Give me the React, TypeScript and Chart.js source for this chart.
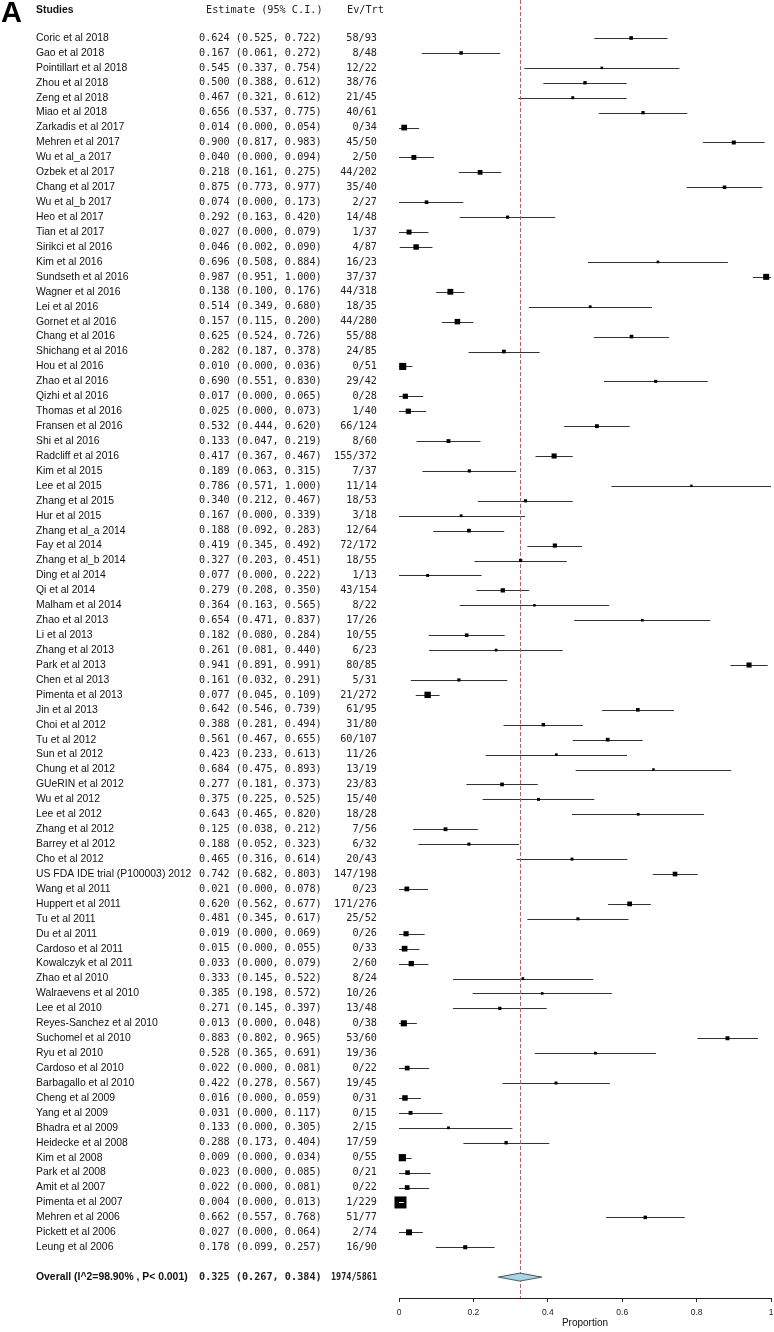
import React, { useEffect, useRef } from "react";
import { Chart, registerables } from "chart.js";
Chart.register(...registerables);

const studies = [
  "Coric et al 2018", "Gao et al 2018", "Pointillart et al 2018", "Zhou et al 2018", "Zeng et al 2018",
  "Miao et al 2018", "Zarkadis et al 2017", "Mehren et al 2017", "Wu et al_a 2017", "Ozbek et al 2017",
  "Chang et al 2017", "Wu et al_b 2017", "Heo et al 2017", "Tian et al 2017", "Sirikci et al 2016",
  "Kim et al 2016", "Sundseth et al 2016", "Wagner et al 2016", "Lei et al 2016", "Gornet et al 2016",
  "Chang et al 2016", "Shichang et al 2016", "Hou et al 2016", "Zhao et al 2016", "Qizhi et al 2016",
  "Thomas et al 2016", "Fransen et al 2016", "Shi et al 2016", "Radcliff et al 2016", "Kim et al 2015",
  "Lee et al 2015", "Zhang et al 2015", "Hur et al 2015", "Zhang et al_a 2014", "Fay et al 2014",
  "Zhang et al_b 2014", "Ding et al 2014", "Qi et al 2014", "Malham et al 2014", "Zhao et al 2013",
  "Li et al 2013", "Zhang et al 2013", "Park et al 2013", "Chen et al 2013", "Pimenta et al 2013",
  "Jin et al 2013", "Choi et al 2012", "Tu et al 2012", "Sun et al 2012", "Chung et al 2012",
  "GUeRIN et al 2012", "Wu et al 2012", "Lee et al 2012", "Zhang et al 2012", "Barrey et al 2012",
  "Cho et al 2012", "US FDA IDE trial (P100003) 2012", "Wang et al 2011", "Huppert et al 2011", "Tu et al 2011",
  "Du et al 2011", "Cardoso et al 2011", "Kowalczyk et al 2011", "Zhao et al 2010", "Walraevens et al 2010",
  "Lee et al 2010", "Reyes-Sanchez et al 2010", "Suchomel et al 2010", "Ryu et al 2010", "Cardoso et al 2010",
  "Barbagallo et al 2010", "Cheng et al 2009", "Yang et al 2009", "Bhadra et al 2009", "Heidecke et al 2008",
  "Kim et al 2008", "Park et al 2008", "Amit et al 2007", "Pimenta et al 2007", "Mehren et al 2006",
  "Pickett et al 2006", "Leung et al 2006",
];

const estimates = [
  0.624, 0.167, 0.545, 0.500, 0.467, 0.656, 0.014, 0.900, 0.040, 0.218,
  0.875, 0.074, 0.292, 0.027, 0.046, 0.696, 0.987, 0.138, 0.514, 0.157,
  0.625, 0.282, 0.010, 0.690, 0.017, 0.025, 0.532, 0.133, 0.417, 0.189,
  0.786, 0.340, 0.167, 0.188, 0.419, 0.327, 0.077, 0.279, 0.364, 0.654,
  0.182, 0.261, 0.941, 0.161, 0.077, 0.642, 0.388, 0.561, 0.423, 0.684,
  0.277, 0.375, 0.643, 0.125, 0.188, 0.465, 0.742, 0.021, 0.620, 0.481,
  0.019, 0.015, 0.033, 0.333, 0.385, 0.271, 0.013, 0.883, 0.528, 0.022,
  0.422, 0.016, 0.031, 0.133, 0.288, 0.009, 0.023, 0.022, 0.004, 0.662,
  0.027, 0.178,
];

const lowers = [
  0.525, 0.061, 0.337, 0.388, 0.321, 0.537, 0.000, 0.817, 0.000, 0.161,
  0.773, 0.000, 0.163, 0.000, 0.002, 0.508, 0.951, 0.100, 0.349, 0.115,
  0.524, 0.187, 0.000, 0.551, 0.000, 0.000, 0.444, 0.047, 0.367, 0.063,
  0.571, 0.212, 0.000, 0.092, 0.345, 0.203, 0.000, 0.208, 0.163, 0.471,
  0.080, 0.081, 0.891, 0.032, 0.045, 0.546, 0.281, 0.467, 0.233, 0.475,
  0.181, 0.225, 0.465, 0.038, 0.052, 0.316, 0.682, 0.000, 0.562, 0.345,
  0.000, 0.000, 0.000, 0.145, 0.198, 0.145, 0.000, 0.802, 0.365, 0.000,
  0.278, 0.000, 0.000, 0.000, 0.173, 0.000, 0.000, 0.000, 0.000, 0.557,
  0.000, 0.099,
];

const uppers = [
  0.722, 0.272, 0.754, 0.612, 0.612, 0.775, 0.054, 0.983, 0.094, 0.275,
  0.977, 0.173, 0.420, 0.079, 0.090, 0.884, 1.000, 0.176, 0.680, 0.200,
  0.726, 0.378, 0.036, 0.830, 0.065, 0.073, 0.620, 0.219, 0.467, 0.315,
  1.000, 0.467, 0.339, 0.283, 0.492, 0.451, 0.222, 0.350, 0.565, 0.837,
  0.284, 0.440, 0.991, 0.291, 0.109, 0.739, 0.494, 0.655, 0.613, 0.893,
  0.373, 0.525, 0.820, 0.212, 0.323, 0.614, 0.803, 0.078, 0.677, 0.617,
  0.069, 0.055, 0.079, 0.522, 0.572, 0.397, 0.048, 0.965, 0.691, 0.081,
  0.567, 0.059, 0.117, 0.305, 0.404, 0.034, 0.085, 0.081, 0.013, 0.768,
  0.064, 0.257,
];

const events = [
  58, 8, 12, 38, 21, 40, 0, 45, 2, 44,
  35, 2, 14, 1, 4, 16, 37, 44, 18, 44,
  55, 24, 0, 29, 0, 1, 66, 8, 155, 7,
  11, 18, 3, 12, 72, 18, 1, 43, 8, 17,
  10, 6, 80, 5, 21, 61, 31, 60, 11, 13,
  23, 15, 18, 7, 6, 20, 147, 0, 171, 25,
  0, 0, 2, 8, 10, 13, 0, 53, 19, 0,
  19, 0, 0, 2, 17, 0, 0, 0, 1, 51,
  2, 16,
];

const totals = [
  93, 48, 22, 76, 45, 61, 34, 50, 50, 202,
  40, 27, 48, 37, 87, 23, 37, 318, 35, 280,
  88, 85, 51, 42, 28, 40, 124, 60, 372, 37,
  14, 53, 18, 64, 172, 55, 13, 154, 22, 26,
  55, 23, 85, 31, 272, 95, 80, 107, 26, 19,
  83, 40, 28, 56, 32, 43, 198, 23, 276, 52,
  26, 33, 60, 24, 26, 48, 38, 60, 36, 22,
  45, 31, 15, 15, 59, 55, 21, 22, 229, 77,
  74, 90,
];

const overallLabel = "Overall (I^2=98.90% , P< 0.001)";
const overallEstimate = 0.325;
const overallLower = 0.267;
const overallUpper = 0.384;
const overallEvents = 1974;
const overallTotal = 5861;

const xTicks = [0, 0.2, 0.4, 0.6, 0.8, 1];
const headers = ["Studies", "Estimate (95% C.I.)", "Ev/Trt"];
const panelLetter = "A";
const xTitle = "Proportion";

const SANS = '"Liberation Sans", Arial, sans-serif';
const MONO = '"DejaVu Sans Mono", monospace';
const OVERALL_ROW = studies.length + 1;

function boxSide(i: number): number {
  const se = Math.max(uppers[i] - estimates[i], estimates[i] - lowers[i]) / 1.96;
  return 0.814 / Math.sqrt(Math.max(se, 0.001));
}

function fmt(v: number): string {
  return v.toFixed(3);
}

const forestPlugin = {
  id: "forest",
  beforeDatasetsDraw(chart: any) {
    const { ctx, chartArea, scales } = chart;
    const x = scales.x;
    const y = scales.y;
    ctx.save();
    ctx.strokeStyle = "#333";
    ctx.lineWidth = 1;
    for (let i = 0; i < studies.length; i++) {
      const py = Math.round(y.getPixelForValue(i)) + 0.5;
      ctx.beginPath();
      ctx.moveTo(x.getPixelForValue(lowers[i]), py);
      ctx.lineTo(x.getPixelForValue(uppers[i]), py);
      ctx.stroke();
    }
    const rx = Math.round(x.getPixelForValue(overallEstimate)) + 0.5;
    ctx.strokeStyle = "#e4505a";
    ctx.setLineDash([4, 2]);
    ctx.beginPath();
    ctx.moveTo(rx, chartArea.top);
    ctx.lineTo(rx, chartArea.bottom);
    ctx.stroke();
    ctx.restore();
  },
  afterDatasetsDraw(chart: any) {
    const { ctx, scales } = chart;
    const x = scales.x;
    const y = scales.y;
    ctx.save();
    ctx.strokeStyle = "#fff";
    ctx.lineWidth = 1;
    for (let i = 0; i < studies.length; i++) {
      const half = boxSide(i) / 2;
      const pl = x.getPixelForValue(lowers[i]);
      const pu = x.getPixelForValue(uppers[i]);
      const pe = x.getPixelForValue(estimates[i]);
      if (pe - pl < half && pu - pe < half) {
        const py = Math.round(y.getPixelForValue(i)) + 0.5;
        ctx.beginPath();
        ctx.moveTo(pl, py);
        ctx.lineTo(pu, py);
        ctx.stroke();
      }
    }
    const oy = y.getPixelForValue(OVERALL_ROW);
    ctx.beginPath();
    ctx.moveTo(x.getPixelForValue(overallLower), oy);
    ctx.lineTo(x.getPixelForValue(overallEstimate), oy - 4);
    ctx.lineTo(x.getPixelForValue(overallUpper), oy);
    ctx.lineTo(x.getPixelForValue(overallEstimate), oy + 4);
    ctx.closePath();
    ctx.fillStyle = "#a3d6e8";
    ctx.fill();
    ctx.strokeStyle = "#333";
    ctx.lineWidth = 0.8;
    ctx.stroke();

    const nameX = 36;
    const estX = 199;
    const evX = 377;
    ctx.fillStyle = "#000";
    ctx.font = `bold 29px ${SANS}`;
    ctx.textAlign = "left";
    ctx.textBaseline = "alphabetic";
    ctx.fillText(panelLetter, 1, 22);

    ctx.textBaseline = "middle";
    const hy = y.getPixelForValue(-1.87);
    ctx.font = `bold 10.4px ${SANS}`;
    ctx.fillStyle = "#111";
    ctx.fillText(headers[0], nameX, hy);
    ctx.font = `10.2px ${MONO}`;
    ctx.fillStyle = "#222";
    ctx.fillText(headers[1], 206, hy);
    ctx.fillText(headers[2], 347, hy);

    for (let i = 0; i < studies.length; i++) {
      const py = y.getPixelForValue(i);
      ctx.textAlign = "left";
      ctx.font = `10.4px ${SANS}`;
      ctx.fillStyle = "#111";
      ctx.fillText(studies[i], nameX, py);
      ctx.font = `10.2px ${MONO}`;
      ctx.fillStyle = "#222";
      ctx.fillText(`${fmt(estimates[i])} (${fmt(lowers[i])}, ${fmt(uppers[i])})`, estX, py);
      ctx.textAlign = "right";
      ctx.fillText(`${events[i]}/${totals[i]}`, evX, py);
    }
    ctx.textAlign = "left";
    ctx.font = `bold 10.4px ${SANS}`;
    ctx.fillStyle = "#111";
    ctx.fillText(overallLabel, nameX, oy);
    ctx.font = `bold 10.2px ${MONO}`;
    ctx.fillStyle = "#222";
    ctx.fillText(`${fmt(overallEstimate)} (${fmt(overallLower)}, ${fmt(overallUpper)})`, estX, oy);
    ctx.textAlign = "right";
    ctx.fillText(`${overallEvents}/${overallTotal}`, evX, oy, 46);
    ctx.restore();
  },
};

export default function App() {
  const canvasRef = useRef<HTMLCanvasElement | null>(null);

  useEffect(() => {
    const canvas = canvasRef.current;
    if (!canvas) return;
    const chart = new Chart(canvas, {
      type: "scatter",
      data: {
        datasets: [
          {
            data: studies.map((_, i) => ({ x: estimates[i], y: i })),
            pointStyle: "rect",
            pointRadius: studies.map((_, i) => boxSide(i) / Math.SQRT2),
            pointHoverRadius: studies.map((_, i) => boxSide(i) / Math.SQRT2),
            pointBorderWidth: 0,
            pointBackgroundColor: "#000",
            backgroundColor: "#000",
            borderColor: "#000",
            clip: false as any,
          },
        ],
      },
      options: {
        responsive: false,
        animation: false,
        events: [],
        layout: { autoPadding: false, padding: { left: 399, right: 3, top: 0, bottom: 3 } },
        plugins: { legend: { display: false }, tooltip: { enabled: false }, title: { display: false } },
        scales: {
          x: {
            type: "linear",
            min: 0,
            max: 1,
            afterBuildTicks: (scale: any) => {
              scale.ticks = xTicks.map((v) => ({ value: v }));
            },
            afterFit: (scale: any) => {
              scale.paddingLeft = 0;
              scale.paddingRight = 0;
            },
            grid: { display: true, drawOnChartArea: false, drawTicks: true, tickLength: 4, color: "#222" },
            border: { display: true, color: "#222", width: 1 },
            ticks: {
              font: { family: SANS, size: 8.5 },
              color: "#222",
              padding: 6,
              maxRotation: 0,
              autoSkip: false,
              callback: (v: any) => String(v),
            },
            title: {
              display: true,
              text: xTitle,
              font: { family: SANS, size: 10 },
              color: "#111",
              padding: { top: -7.2, bottom: 0 },
            },
          },
          y: {
            type: "linear",
            display: false,
            reverse: true,
            min: -2.545,
            max: 84.4,
          },
        },
      },
      plugins: [forestPlugin],
    } as any);
    return () => chart.destroy();
  }, []);

  return (
    <div style={{ position: "absolute", left: 0, top: 0, width: 774, height: 1332 }}>
      <canvas ref={canvasRef} width={774} height={1332} style={{ width: 774, height: 1332, display: "block" }} />
    </div>
  );
}
